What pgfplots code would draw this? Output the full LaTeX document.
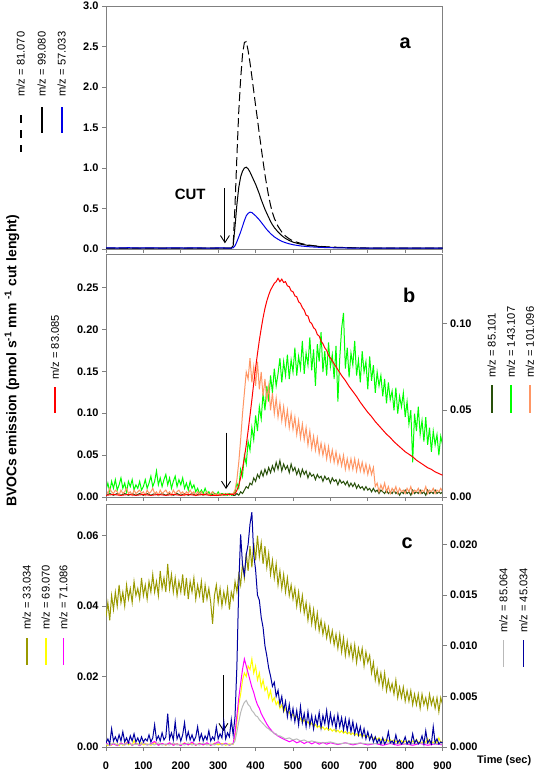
\documentclass[border=0pt]{standalone}
\usepackage{fontspec}
\setmainfont{Liberation Sans}
\usepackage{pgfplots}
\usepackage{pgfplotstable}
\pgfplotsset{compat=1.18}
\usetikzlibrary{arrows.meta}
\definecolor{cred}{RGB}{255,0,0}
\definecolor{cdkgreen}{RGB}{40,80,10}
\definecolor{clime}{RGB}{0,255,0}
\definecolor{corange}{RGB}{255,150,100}
\definecolor{colive}{RGB}{153,153,0}
\definecolor{cyellow}{RGB}{255,255,0}
\definecolor{cmagenta}{RGB}{255,0,255}
\definecolor{cgray}{RGB}{185,185,185}
\definecolor{cnavy}{RGB}{0,0,160}
\definecolor{cblue}{RGB}{0,0,230}
\definecolor{frame}{RGB}{128,128,128}

\pgfplotsset{
  panel/.style={
    scale only axis, width=336.6bp, height=243bp,
    xmin=0, xmax=900, xtick={0,100,...,900},
    scaled x ticks=false, scaled y ticks=false,
    tick align=outside, major tick length=4bp,
    axis line style={frame, line width=0.9bp},
    tick style={frame, line width=0.9bp},
    /pgf/number format/assume math mode=true,
    ticklabel style={font=\bfseries\fontsize{11}{13}\selectfont},
    every axis plot/.append style={line width=1bp},
    clip=true,
  },
  fmt/.style={/pgf/number format/fixed, /pgf/number format/fixed zerofill, /pgf/number format/precision=#1},
}
\newcommand{\legtext}[3]{\node[rotate=90, anchor=west, inner sep=0pt, font=\fontsize{11.2}{13}\selectfont] at (#1bp,-#2bp) {#3};}
\newcommand{\legline}[4]{\draw[#4, line width=1.6bp] (#1bp,-#2bp) -- (#1bp,-#3bp);}

\pgfplotstableread{
t d81 s99 b57
0 0.01 0.01 0.015
30 0.01 0.01 0.012
60 0.01 0.01 0.016
90 0.01 0.01 0.012
120 0.01 0.01 0.015
150 0.01 0.01 0.011
180 0.01 0.01 0.015
210 0.01 0.01 0.012
240 0.01 0.01 0.014
270 0.01 0.01 0.011
300 0.01 0.01 0.013
330 0.01 0.01 0.012
335 0.012 0.012 0.012
340 0.04 0.04 0.015
345 0.55 0.28 0.04
350 1.15 0.55 0.09
355 1.7 0.76 0.15
360 2.1 0.89 0.21
365 2.4 0.96 0.28
370 2.55 1.0 0.35
375 2.56 1.01 0.41
380 2.45 0.99 0.44
385 2.3 0.95 0.455
390 2.13 0.9 0.45
395 1.95 0.85 0.43
400 1.77 0.8 0.41
405 1.6 0.74 0.385
410 1.42 0.68 0.36
415 1.25 0.61 0.33
420 1.08 0.55 0.3
425 0.92 0.49 0.27
430 0.78 0.44 0.24
435 0.65 0.39 0.215
440 0.54 0.34 0.19
445 0.45 0.3 0.17
450 0.38 0.265 0.15
460 0.28 0.21 0.12
470 0.21 0.165 0.095
480 0.16 0.13 0.078
490 0.125 0.105 0.064
500 0.1 0.085 0.053
520 0.07 0.06 0.038
540 0.05 0.045 0.029
560 0.038 0.035 0.023
580 0.03 0.027 0.019
600 0.024 0.021 0.016
650 0.016 0.014 0.012
700 0.012 0.011 0.01
800 0.01 0.01 0.01
900 0.01 0.01 0.01
}\tabA

\begin{document}
\begin{tikzpicture}
\useasboundingbox (0bp,0bp) rectangle (537bp,-772bp);

% ---------------- panel a ----------------
\begin{axis}[panel, at={(106bp,-249bp)}, anchor=south west,
  ymin=0, ymax=3, ytick={0,0.5,...,3},
  xtick pos=bottom, ytick pos=left, xticklabels={},
  yticklabel style={fmt=1},
]
\addplot[black, dash pattern=on 9bp off 4bp] table[x=t, y=d81] {\tabA};
\addplot[black] table[x=t, y=s99] {\tabA};
\addplot[cblue] table[x=t, y=b57] {\tabA};
\draw[black, line width=0.9bp, -{Straight Barb[length=7bp,width=9bp]}] (axis cs:318,0.75) -- (axis cs:318,0.07);
\node[font=\bfseries\fontsize{15}{18}\selectfont] at (axis cs:225,0.68) {CUT};
\node[font=\bfseries\fontsize{20}{24}\selectfont] at (axis cs:800,2.54) {a};
\end{axis}

% ---------------- panel b (right axis) ----------------
\begin{axis}[panel, at={(106bp,-497bp)}, anchor=south west,
  ymin=0, ymax=0.14, ytick={0,0.05,0.1},
  axis y line*=right, axis x line=none,
  yticklabel style={fmt=2},
]
\addplot[cdkgreen] coordinates {(0,0.001)(10,0.002)(20,0.001)(30,0.002)(40,0.001)(50,0.002)(60,0.001)(70,0.002)(80,0.001)(90,0.002)(100,0.001)(110,0.002)(120,0.001)(130,0.002)(140,0.001)(150,0.002)(160,0.001)(170,0.002)(180,0.001)(190,0.002)(200,0.001)(210,0.002)(220,0.001)(230,0.002)(240,0.001)(250,0.002)(260,0.001)(270,0.002)(280,0.001)(290,0.002)(300,0.001)(310,0.002)(320,0.001)(330,0.002)(340,0.001)(345,0.001)(350,0.002)(355,0.001)(360,0.003)(365,0.002)(370,0.004)(375,0.006)(380,0.005)(385,0.008)(390,0.007)(395,0.011)(400,0.009)(405,0.013)(410,0.011)(415,0.015)(420,0.012)(425,0.016)(430,0.013)(435,0.017)(440,0.014)(445,0.018)(450,0.015)(455,0.020)(460,0.016)(465,0.021)(470,0.015)(475,0.019)(480,0.016)(485,0.018)(490,0.014)(495,0.019)(500,0.015)(505,0.017)(510,0.013)(515,0.016)(520,0.012)(525,0.016)(530,0.013)(535,0.015)(540,0.011)(545,0.014)(550,0.012)(555,0.013)(560,0.010)(565,0.013)(570,0.011)(575,0.012)(580,0.009)(585,0.012)(590,0.010)(595,0.011)(600,0.008)(605,0.011)(610,0.009)(615,0.010)(620,0.007)(625,0.010)(630,0.008)(635,0.009)(640,0.007)(645,0.009)(650,0.006)(655,0.008)(660,0.006)(665,0.008)(670,0.005)(675,0.007)(680,0.005)(685,0.006)(690,0.004)(695,0.006)(700,0.004)(705,0.005)(710,0.003)(715,0.005)(720,0.003)(725,0.004)(730,0.002)(735,0.004)(740,0.003)(745,0.002)(750,0.004)(755,0.002)(760,0.003)(765,0.002)(770,0.004)(775,0.002)(780,0.003)(785,0.001)(790,0.003)(795,0.002)(800,0.004)(805,0.002)(810,0.003)(815,0.001)(820,0.004)(825,0.002)(830,0.003)(835,0.002)(840,0.004)(845,0.002)(850,0.003)(855,0.001)(860,0.004)(865,0.002)(870,0.003)(875,0.002)(880,0.004)(885,0.002)(890,0.003)(895,0.002)(900,0.003)};
\addplot[clime] coordinates {(0,0.004)(5,0.008)(10,0.003)(15,0.009)(20,0.005)(25,0.010)(30,0.004)(35,0.007)(40,0.011)(45,0.005)(50,0.008)(55,0.003)(60,0.009)(65,0.006)(70,0.010)(75,0.004)(80,0.007)(85,0.005)(90,0.009)(95,0.004)(100,0.006)(105,0.010)(110,0.005)(115,0.008)(120,0.012)(125,0.006)(130,0.009)(135,0.015)(140,0.007)(145,0.011)(150,0.006)(155,0.010)(160,0.013)(165,0.007)(170,0.011)(175,0.005)(180,0.009)(185,0.012)(190,0.006)(195,0.010)(200,0.007)(205,0.011)(210,0.005)(215,0.008)(220,0.004)(225,0.009)(230,0.005)(235,0.007)(240,0.003)(245,0.005)(250,0.002)(255,0.004)(260,0.002)(265,0.005)(270,0.002)(275,0.003)(280,0.001)(285,0.003)(290,0.002)(295,0.001)(300,0.003)(305,0.001)(310,0.002)(315,0.001)(320,0.002)(325,0.001)(330,0.002)(335,0.001)(340,0.002)(345,0.003)(350,0.008)(355,0.005)(360,0.016)(365,0.012)(370,0.024)(375,0.019)(380,0.032)(385,0.027)(390,0.040)(395,0.033)(400,0.047)(405,0.038)(410,0.052)(415,0.045)(420,0.060)(425,0.050)(430,0.064)(435,0.055)(440,0.070)(445,0.060)(450,0.074)(455,0.064)(460,0.071)(465,0.080)(470,0.066)(475,0.078)(480,0.070)(485,0.082)(490,0.068)(495,0.079)(500,0.072)(505,0.086)(510,0.070)(515,0.081)(520,0.074)(525,0.090)(530,0.071)(535,0.083)(540,0.076)(545,0.092)(550,0.073)(555,0.085)(560,0.064)(565,0.088)(570,0.078)(575,0.095)(580,0.072)(585,0.084)(590,0.070)(595,0.089)(600,0.075)(605,0.082)(610,0.068)(615,0.087)(620,0.055)(625,0.080)(630,0.097)(635,0.106)(640,0.074)(645,0.086)(650,0.069)(655,0.083)(660,0.076)(665,0.090)(670,0.070)(675,0.079)(680,0.066)(685,0.084)(690,0.072)(695,0.078)(700,0.062)(705,0.081)(710,0.067)(715,0.076)(720,0.060)(725,0.072)(730,0.064)(735,0.070)(740,0.058)(745,0.068)(750,0.054)(755,0.066)(760,0.056)(765,0.061)(770,0.050)(775,0.063)(780,0.048)(785,0.058)(790,0.052)(795,0.060)(800,0.046)(805,0.055)(810,0.042)(815,0.050)(820,0.020)(825,0.048)(830,0.038)(835,0.052)(840,0.036)(845,0.044)(850,0.032)(855,0.046)(860,0.030)(865,0.040)(870,0.026)(875,0.038)(880,0.030)(885,0.036)(890,0.024)(895,0.035)(900,0.030)};
\addplot[corange] coordinates {(0,0.004)(5,0.002)(10,0.005)(15,0.003)(20,0.002)(25,0.004)(30,0.003)(35,0.001)(40,0.004)(45,0.002)(50,0.003)(55,0.005)(60,0.002)(65,0.003)(70,0.001)(75,0.004)(80,0.002)(85,0.003)(90,0.004)(95,0.002)(100,0.003)(105,0.001)(110,0.004)(115,0.002)(120,0.003)(125,0.005)(130,0.002)(135,0.003)(140,0.001)(145,0.004)(150,0.002)(155,0.003)(160,0.004)(165,0.002)(170,0.003)(175,0.001)(180,0.004)(185,0.002)(190,0.003)(195,0.004)(200,0.002)(205,0.003)(210,0.001)(215,0.003)(220,0.002)(225,0.004)(230,0.002)(235,0.003)(240,0.001)(245,0.003)(250,0.002)(255,0.003)(260,0.001)(265,0.002)(270,0.003)(275,0.001)(280,0.002)(285,0.003)(290,0.001)(295,0.002)(300,0.001)(305,0.002)(310,0.001)(315,0.002)(320,0.001)(325,0.002)(330,0.001)(335,0.002)(340,0.002)(345,0.004)(350,0.010)(355,0.020)(360,0.033)(365,0.048)(370,0.060)(375,0.072)(380,0.068)(385,0.080)(390,0.066)(395,0.075)(400,0.064)(405,0.078)(410,0.062)(415,0.072)(420,0.058)(425,0.068)(430,0.056)(435,0.064)(440,0.050)(445,0.060)(450,0.048)(455,0.057)(460,0.046)(465,0.054)(470,0.044)(475,0.052)(480,0.042)(485,0.050)(490,0.040)(495,0.048)(500,0.039)(505,0.046)(510,0.036)(515,0.044)(520,0.034)(525,0.042)(530,0.033)(535,0.040)(540,0.030)(545,0.038)(550,0.028)(555,0.035)(560,0.027)(565,0.034)(570,0.025)(575,0.031)(580,0.024)(585,0.030)(590,0.022)(595,0.029)(600,0.021)(605,0.027)(610,0.020)(615,0.026)(620,0.019)(625,0.024)(630,0.018)(635,0.024)(640,0.016)(645,0.022)(650,0.016)(655,0.022)(660,0.016)(665,0.022)(670,0.015)(675,0.021)(680,0.015)(685,0.020)(690,0.014)(695,0.019)(700,0.013)(705,0.018)(710,0.013)(715,0.017)(720,0.006)(725,0.008)(730,0.003)(735,0.007)(740,0.004)(745,0.008)(750,0.003)(755,0.006)(760,0.002)(765,0.005)(770,0.003)(775,0.006)(780,0.002)(785,0.005)(790,0.003)(795,0.004)(800,0.002)(805,0.005)(810,0.003)(815,0.006)(820,0.002)(825,0.004)(830,0.003)(835,0.005)(840,0.002)(845,0.004)(850,0.003)(855,0.006)(860,0.002)(865,0.004)(870,0.003)(875,0.005)(880,0.002)(885,0.004)(890,0.003)(895,0.005)(900,0.003)};
\end{axis}

% ---------------- panel b (left axis) ----------------
\begin{axis}[panel, at={(106bp,-497bp)}, anchor=south west,
  ymin=0, ymax=0.29, ytick={0,0.05,...,0.25},
  xtick pos=bottom, ytick pos=left, xticklabels={},
  yticklabel style={fmt=2},
]
\addplot[cred] coordinates {(0,0.002)(20,0.003)(40,0.002)(60,0.003)(80,0.002)(100,0.003)(120,0.002)(140,0.003)(160,0.002)(180,0.003)(200,0.002)(220,0.003)(240,0.002)(260,0.003)(280,0.002)(300,0.002)(320,0.003)(340,0.003)(345,0.004)(350,0.008)(355,0.014)(360,0.023)(365,0.034)(370,0.047)(375,0.062)(380,0.079)(385,0.097)(390,0.116)(395,0.136)(400,0.154)(405,0.171)(410,0.187)(415,0.201)(420,0.214)(425,0.225)(430,0.234)(435,0.241)(440,0.247)(445,0.251)(450,0.255)(455,0.257)(460,0.261)(465,0.257)(470,0.260)(475,0.256)(480,0.257)(485,0.252)(490,0.251)(495,0.246)(500,0.245)(505,0.240)(510,0.239)(515,0.233)(520,0.231)(525,0.226)(530,0.223)(535,0.217)(540,0.216)(545,0.209)(550,0.207)(555,0.202)(560,0.200)(565,0.194)(570,0.192)(575,0.186)(580,0.183)(585,0.178)(590,0.175)(595,0.169)(600,0.166)(610,0.159)(620,0.152)(630,0.145)(640,0.139)(650,0.132)(660,0.126)(670,0.120)(680,0.113)(690,0.107)(700,0.101)(710,0.096)(720,0.090)(730,0.085)(740,0.080)(750,0.075)(760,0.071)(770,0.066)(780,0.062)(790,0.058)(800,0.054)(810,0.051)(820,0.048)(830,0.044)(840,0.041)(850,0.038)(860,0.035)(870,0.033)(880,0.030)(890,0.028)(900,0.026)};
\draw[black, line width=0.9bp, -{Straight Barb[length=7bp,width=9bp]}] (axis cs:321,0.0767) -- (axis cs:321,0.0095);
\node[font=\bfseries\fontsize{20}{24}\selectfont] at (axis cs:811,0.241) {b};
\end{axis}

% ---------------- panel c (left axis) ----------------
\begin{axis}[panel, at={(106bp,-747bp)}, anchor=south west,
  ymin=0, ymax=0.069, ytick={0,0.02,0.04,0.06},
  xtick pos=bottom, ytick pos=left,
  xticklabel style={/pgf/number format/fixed, /pgf/number format/precision=0, inner sep=0pt, yshift=-11bp},
  yticklabel style={fmt=2},
]
\addplot[colive] coordinates {(0,0.037)(5,0.041)(10,0.036)(15,0.043)(20,0.039)(25,0.044)(30,0.040)(35,0.046)(40,0.041)(45,0.044)(50,0.040)(55,0.046)(60,0.042)(65,0.045)(70,0.041)(75,0.047)(80,0.043)(85,0.045)(90,0.042)(95,0.048)(100,0.043)(105,0.046)(110,0.042)(115,0.047)(120,0.044)(125,0.049)(130,0.044)(135,0.047)(140,0.043)(145,0.050)(150,0.045)(155,0.048)(160,0.044)(165,0.052)(170,0.045)(175,0.049)(180,0.044)(185,0.048)(190,0.043)(195,0.047)(200,0.044)(205,0.049)(210,0.043)(215,0.048)(220,0.042)(225,0.047)(230,0.044)(235,0.048)(240,0.042)(245,0.046)(250,0.043)(255,0.047)(260,0.041)(265,0.046)(270,0.042)(275,0.045)(280,0.041)(285,0.035)(290,0.043)(295,0.046)(300,0.041)(305,0.045)(310,0.040)(315,0.044)(320,0.041)(325,0.045)(330,0.039)(335,0.044)(340,0.042)(345,0.047)(350,0.044)(355,0.049)(360,0.046)(365,0.052)(370,0.048)(375,0.055)(380,0.050)(385,0.057)(390,0.051)(395,0.058)(400,0.053)(405,0.060)(410,0.054)(415,0.058)(420,0.052)(425,0.057)(430,0.051)(435,0.055)(440,0.049)(445,0.053)(450,0.048)(455,0.052)(460,0.046)(465,0.050)(470,0.045)(475,0.049)(480,0.044)(485,0.048)(490,0.043)(495,0.046)(500,0.042)(505,0.045)(510,0.040)(515,0.044)(520,0.039)(525,0.043)(530,0.038)(535,0.041)(540,0.036)(545,0.040)(550,0.035)(555,0.039)(560,0.034)(565,0.038)(570,0.033)(575,0.036)(580,0.032)(585,0.035)(590,0.031)(595,0.034)(600,0.030)(605,0.033)(610,0.029)(615,0.032)(620,0.028)(625,0.032)(630,0.027)(635,0.031)(640,0.026)(645,0.030)(650,0.026)(655,0.029)(660,0.025)(665,0.029)(670,0.024)(675,0.028)(680,0.025)(685,0.028)(690,0.023)(695,0.027)(700,0.024)(705,0.026)(710,0.021)(715,0.024)(720,0.019)(725,0.022)(730,0.018)(735,0.021)(740,0.017)(745,0.021)(750,0.016)(755,0.019)(760,0.016)(765,0.018)(770,0.015)(775,0.019)(780,0.014)(785,0.017)(790,0.014)(795,0.017)(800,0.013)(805,0.016)(810,0.013)(815,0.016)(820,0.012)(825,0.015)(830,0.012)(835,0.015)(840,0.011)(845,0.015)(850,0.012)(855,0.014)(860,0.011)(865,0.015)(870,0.012)(875,0.014)(880,0.011)(885,0.014)(890,0.010)(895,0.014)(900,0.012)};
\addplot[cyellow] coordinates {(0,0.0008)(5,0.0004)(10,0.001)(15,0.0005)(20,0.0012)(25,0.0006)(30,0.0009)(35,0.0004)(40,0.0011)(45,0.0005)(50,0.0008)(55,0.0013)(60,0.0006)(65,0.001)(70,0.0005)(75,0.0018)(80,0.0007)(85,0.001)(90,0.0005)(95,0.0012)(100,0.0006)(110,0.0009)(120,0.0005)(130,0.0012)(140,0.0006)(150,0.001)(160,0.0005)(170,0.0011)(180,0.0006)(190,0.0009)(200,0.0005)(210,0.0012)(220,0.0006)(230,0.001)(240,0.0005)(250,0.0011)(260,0.0006)(270,0.0009)(280,0.0005)(290,0.0011)(300,0.0006)(310,0.001)(320,0.0005)(330,0.0009)(340,0.0007)(345,0.003)(350,0.007)(355,0.012)(360,0.015)(365,0.019)(370,0.021)(375,0.020)(380,0.023)(385,0.022)(390,0.025)(395,0.021)(400,0.023)(405,0.019)(410,0.021)(415,0.017)(420,0.019)(425,0.016)(430,0.017)(435,0.014)(440,0.016)(445,0.013)(450,0.014)(455,0.012)(460,0.013)(465,0.011)(470,0.012)(475,0.010)(480,0.011)(485,0.0095)(490,0.0100)(495,0.0085)(500,0.0095)(505,0.0080)(510,0.0088)(515,0.0075)(520,0.0082)(525,0.0070)(530,0.0078)(535,0.0066)(540,0.0072)(545,0.0062)(550,0.0068)(555,0.0058)(560,0.0064)(565,0.0055)(570,0.0060)(575,0.0052)(580,0.0057)(585,0.0049)(590,0.0055)(595,0.0047)(600,0.0052)(605,0.0045)(610,0.0050)(615,0.0043)(620,0.0048)(625,0.0041)(630,0.0046)(635,0.0039)(640,0.0044)(645,0.0037)(650,0.0042)(655,0.0035)(660,0.0040)(665,0.0033)(670,0.0038)(675,0.0031)(680,0.0036)(685,0.0029)(690,0.0034)(695,0.0027)(700,0.0032)(705,0.0025)(710,0.0030)(715,0.0023)(720,0.0028)(725,0.0021)(730,0.0026)(735,0.0019)(740,0.0024)(745,0.0018)(750,0.0022)(755,0.0016)(760,0.0021)(765,0.0015)(770,0.0020)(775,0.0014)(780,0.0019)(785,0.0013)(790,0.0018)(795,0.0012)(800,0.0017)(805,0.0012)(810,0.0018)(815,0.0011)(820,0.0017)(825,0.0012)(830,0.0022)(835,0.0012)(840,0.0016)(845,0.0011)(850,0.0017)(855,0.0012)(860,0.0024)(865,0.0012)(870,0.0016)(875,0.0011)(880,0.0019)(885,0.0012)(890,0.0026)(895,0.0013)(900,0.0016)};
\addplot[cmagenta] coordinates {(0,0.0012)(10,0.0005)(20,0.0009)(30,0.0004)(40,0.0011)(50,0.0006)(60,0.0015)(70,0.0005)(80,0.001)(90,0.0004)(100,0.0012)(110,0.0006)(120,0.0009)(130,0.0016)(140,0.0005)(150,0.001)(160,0.0006)(170,0.0012)(180,0.0005)(190,0.0009)(200,0.0004)(210,0.0011)(220,0.0006)(230,0.0014)(240,0.0005)(250,0.001)(260,0.0006)(270,0.0012)(280,0.0005)(290,0.0009)(300,0.0015)(310,0.0006)(320,0.0011)(330,0.0005)(340,0.001)(345,0.004)(350,0.009)(355,0.014)(360,0.018)(365,0.022)(370,0.025)(375,0.023)(380,0.021)(385,0.019)(390,0.017)(395,0.0155)(400,0.0135)(405,0.012)(410,0.011)(415,0.0095)(420,0.0085)(425,0.0075)(430,0.0065)(435,0.0057)(440,0.005)(445,0.0044)(450,0.0039)(455,0.0035)(460,0.0031)(465,0.0028)(470,0.0025)(480,0.002)(490,0.0015)(500,0.0019)(510,0.0012)(520,0.0016)(530,0.001)(540,0.0015)(550,0.0009)(560,0.0014)(570,0.0008)(580,0.0013)(590,0.0008)(600,0.0012)(620,0.0007)(640,0.0012)(660,0.0006)(680,0.0011)(700,0.0006)(720,0.001)(740,0.0005)(760,0.001)(780,0.0005)(800,0.0009)(820,0.0005)(840,0.001)(860,0.0005)(880,0.0009)(900,0.0006)};
\draw[black, line width=0.9bp, -{Straight Barb[length=7bp,width=9bp]}] (axis cs:314,0.0204) -- (axis cs:314,0.0045);
\node[font=\bfseries\fontsize{20}{24}\selectfont] at (axis cs:805,0.058) {c};
\end{axis}

% ---------------- panel c (right axis) ----------------
\begin{axis}[panel, at={(106bp,-747bp)}, anchor=south west,
  ymin=0, ymax=0.024, ytick={0,0.005,...,0.02},
  axis y line*=right, axis x line=none,
  yticklabel style={fmt=3},
]
\addplot[cgray] coordinates {(0,0.0003)(10,0.0002)(20,0.0004)(30,0.0002)(40,0.0003)(50,0.0002)(60,0.0004)(70,0.0002)(80,0.0003)(90,0.0002)(100,0.0004)(110,0.0002)(120,0.0003)(130,0.0002)(140,0.0004)(150,0.0002)(160,0.0003)(170,0.0002)(180,0.0004)(190,0.0002)(200,0.0003)(210,0.0002)(220,0.0004)(230,0.0002)(240,0.0003)(250,0.0002)(260,0.0004)(270,0.0002)(280,0.0003)(290,0.0002)(300,0.0004)(310,0.0002)(320,0.0003)(330,0.0002)(340,0.0003)(345,0.0006)(350,0.0015)(355,0.0025)(360,0.0034)(365,0.0040)(370,0.0044)(375,0.0046)(380,0.0042)(385,0.0040)(390,0.0036)(395,0.0034)(400,0.0031)(405,0.0030)(410,0.0027)(415,0.0025)(420,0.0023)(425,0.0021)(430,0.0019)(435,0.0018)(440,0.0016)(445,0.0015)(450,0.0013)(455,0.0013)(460,0.0011)(465,0.0011)(470,0.0010)(480,0.0008)(490,0.0009)(500,0.0007)(510,0.0008)(520,0.0006)(530,0.0007)(540,0.0005)(550,0.0006)(560,0.0005)(580,0.0004)(600,0.0005)(620,0.0003)(640,0.0004)(660,0.0003)(680,0.0004)(700,0.0003)(750,0.0004)(800,0.0003)(850,0.0004)(900,0.0003)};
\addplot[cnavy] coordinates {(0,0.0004)(5,0.0008)(10,0.0003)(15,0.0018)(20,0.0006)(25,0.0010)(30,0.0005)(35,0.0012)(40,0.0006)(45,0.0015)(50,0.0005)(55,0.0009)(60,0.0004)(65,0.0011)(70,0.0006)(75,0.0013)(80,0.0005)(85,0.0009)(90,0.0004)(95,0.0010)(100,0.0005)(105,0.0008)(110,0.0006)(115,0.0012)(120,0.0005)(125,0.0009)(130,0.0022)(135,0.0007)(140,0.0011)(145,0.0006)(150,0.0014)(155,0.0007)(160,0.0010)(165,0.0033)(170,0.0008)(175,0.0014)(180,0.0007)(185,0.0025)(190,0.0008)(195,0.0013)(200,0.0006)(205,0.0012)(210,0.0024)(215,0.0008)(220,0.0015)(225,0.0007)(230,0.0012)(235,0.0006)(240,0.0010)(245,0.0020)(250,0.0007)(255,0.0013)(260,0.0006)(265,0.0011)(270,0.0007)(275,0.0016)(280,0.0006)(285,0.0010)(290,0.0007)(295,0.0020)(300,0.0008)(305,0.0013)(310,0.0009)(315,0.0025)(320,0.0008)(325,0.0014)(330,0.0010)(335,0.0027)(340,0.0012)(345,0.0030)(350,0.0080)(355,0.0160)(360,0.0210)(365,0.0180)(370,0.0170)(375,0.0190)(380,0.0200)(385,0.0220)(390,0.0232)(395,0.0190)(400,0.0175)(405,0.0150)(410,0.0145)(415,0.0128)(420,0.0118)(425,0.0100)(430,0.0090)(435,0.0078)(440,0.0070)(445,0.0060)(450,0.0064)(455,0.0050)(460,0.0056)(465,0.0042)(470,0.0050)(475,0.0036)(480,0.0045)(485,0.0030)(490,0.0042)(495,0.0028)(500,0.0038)(505,0.0025)(510,0.0036)(515,0.0022)(520,0.0040)(525,0.0024)(530,0.0033)(535,0.0020)(540,0.0035)(545,0.0021)(550,0.0031)(555,0.0018)(560,0.0030)(565,0.0022)(570,0.0034)(575,0.0019)(580,0.0031)(585,0.0023)(590,0.0036)(595,0.0020)(600,0.0033)(605,0.0022)(610,0.0030)(615,0.0018)(620,0.0032)(625,0.0020)(630,0.0029)(635,0.0017)(640,0.0028)(645,0.0016)(650,0.0027)(655,0.0015)(660,0.0025)(665,0.0013)(670,0.0022)(675,0.0012)(680,0.0020)(685,0.0010)(690,0.0018)(695,0.0008)(700,0.0015)(705,0.0007)(710,0.0012)(715,0.0005)(720,0.0010)(725,0.0004)(730,0.0008)(735,0.0003)(740,0.0009)(745,0.0003)(750,0.0006)(755,0.0015)(760,0.0004)(765,0.0006)(770,0.0003)(775,0.0012)(780,0.0004)(785,0.0007)(790,0.0003)(795,0.0005)(800,0.0010)(805,0.0003)(810,0.0006)(815,0.0003)(820,0.0013)(825,0.0004)(830,0.0007)(835,0.0003)(840,0.0005)(845,0.0011)(850,0.0003)(855,0.0016)(860,0.0004)(865,0.0007)(870,0.0003)(875,0.0020)(880,0.0004)(885,0.0008)(890,0.0003)(895,0.0005)(900,0.0004)};
\end{axis}

% ---------------- legends (rotated text, key line below) ----------------
\legtext{20.7}{96.7}{m/z = 81.070}
\legline{20.7}{115}{152}{black, dash pattern=on 8.3bp off 6.7bp}
\legtext{41.7}{96.7}{m/z = 99.080}
\legline{41.7}{107}{133}{black}
\legtext{61.7}{96.7}{m/z = 57.033}
\legline{61.7}{107}{133}{cblue}

\legtext{55}{380}{m/z = 83.085}
\legline{55}{387}{413}{cred}

\legtext{491.7}{378}{m/z = 85.101}
\legline{491.7}{385}{413}{cdkgreen}
\legtext{511}{378}{m/z = 143.107}
\legline{511}{385}{413}{clime}
\legtext{530}{378}{m/z = 101.096}
\legline{530}{385}{413}{corange}

\legtext{26.7}{630}{m/z = 33.034}
\legline{26.7}{638}{665}{colive}
\legtext{45.7}{630}{m/z = 69.070}
\legline{45.7}{638}{665}{cyellow}
\legtext{63.3}{630}{m/z = 71.086}
\legline{63.3}{638}{665}{cmagenta}

\legtext{503.3}{633}{m/z = 85.064}
\legline{503.3}{640}{667}{cgray}
\legtext{523.3}{633}{m/z = 45.034}
\legline{523.3}{640}{667}{cnavy}

% axis titles
\node[rotate=90, font=\bfseries\fontsize{14}{16}\selectfont] at (12bp,-361bp)
  {BVOCs emission (pmol s\textsuperscript{-1} mm \textsuperscript{-1} cut lenght)};
\node[anchor=west, inner sep=0pt, font=\bfseries\fontsize{11}{13}\selectfont] at (477bp,-761bp) {Time (sec)};
\end{tikzpicture}
\end{document}
